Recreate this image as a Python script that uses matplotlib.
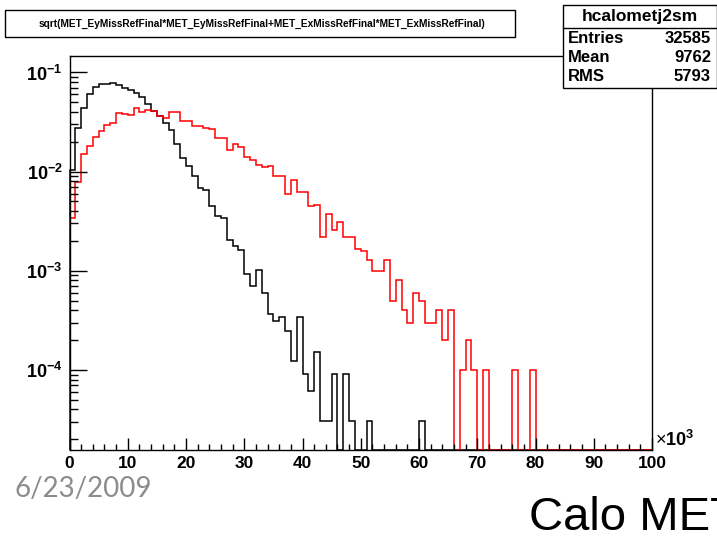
import numpy as np
import matplotlib
matplotlib.use("Agg")
import matplotlib.pyplot as plt
from matplotlib.patches import Rectangle
from matplotlib.lines import Line2D
from matplotlib.ticker import FixedLocator, MultipleLocator, LogLocator, NullFormatter

# ---- data: normalised MET distributions, 100 bins of 1 (x10^3) from 0 to 100 ----
bin_edges = np.arange(0, 101, 1)

met_hcal = [
    0.0103, 0.0274, 0.0436, 0.0600, 0.0710, 0.0765, 0.0765, 0.0790, 0.0750, 0.0690,
    0.0660, 0.0620, 0.0560, 0.0480, 0.0410, 0.0360, 0.0310, 0.0260, 0.0190, 0.0137,
    0.0113, 0.0091, 0.0068, 0.0065, 0.0045, 0.0036, 0.0034, 0.00206, 0.00176, 0.00162,
    0.00093, 0.00071, 0.00103, 0.00060, 0.00037, 0.00031, 0.00034, 0.00025, 0.000123, 0.00034,
    0.000092, 0.000061, 0.000153, 0.0000307, 0.0000307, 0.000092, 0.0, 0.000092, 0.0000307, 0.0,
    0.0, 0.0000307, 0.0, 0.0, 0.0, 0.0, 0.0, 0.0, 0.0, 0.0,
    0.0000307, 0.0, 0.0, 0.0, 0.0, 0.0, 0.0, 0.0, 0.0, 0.0,
    0.0, 0.0, 0.0, 0.0, 0.0, 0.0, 0.0, 0.0, 0.0, 0.0,
    0.0, 0.0, 0.0, 0.0, 0.0, 0.0, 0.0, 0.0, 0.0, 0.0,
    0.0, 0.0, 0.0, 0.0, 0.0, 0.0, 0.0, 0.0, 0.0, 0.0,
]

met_ref = [
    0.0034, 0.0079, 0.0150, 0.0182, 0.0226, 0.0254, 0.0292, 0.0308, 0.0388, 0.0380,
    0.0375, 0.0436, 0.0397, 0.0420, 0.0410, 0.0365, 0.0345, 0.0397, 0.0397, 0.0327,
    0.0327, 0.0290, 0.0290, 0.0278, 0.0270, 0.0217, 0.0220, 0.0166, 0.0189, 0.0179,
    0.0140, 0.0130, 0.0118, 0.0111, 0.0115, 0.0091, 0.0091, 0.0060, 0.0082, 0.0063,
    0.0063, 0.0045, 0.0046, 0.0022, 0.0037, 0.0026, 0.0031, 0.0022, 0.0022, 0.00167,
    0.0016, 0.0013, 0.0010, 0.0010, 0.0013, 0.0005, 0.0008, 0.0004, 0.0003, 0.0006,
    0.0005, 0.0003, 0.0003, 0.0004, 0.0002, 0.0004, 0.0, 0.0001, 0.0002, 0.0001,
    0.0, 0.0001, 0.0, 0.0, 0.0, 0.0, 0.0001, 0.0, 0.0, 0.0001,
    0.0, 0.0, 0.0, 0.0, 0.0, 0.0, 0.0, 0.0, 0.0, 0.0,
    0.0, 0.0, 0.0, 0.0, 0.0, 0.0, 0.0, 0.0, 0.0, 0.0,
]

title_text = "sqrt(MET_EyMissRefFinal*MET_EyMissRefFinal+MET_ExMissRefFinal*MET_ExMissRefFinal)"
stats_name = "hcalometj2sm"
stats_labels = ["Entries", "Mean", "RMS"]
stats_values = ["32585", "9762", "5793"]

x_major = [0, 10, 20, 30, 40, 50, 60, 70, 80, 90, 100]
x_labels = ["0", "10", "20", "30", "40", "50", "60", "70", "80", "90", "100"]
y_major = [1e-4, 1e-3, 1e-2, 1e-1]
y_labels = [r"$\mathbf{10^{-4}}$", r"$\mathbf{10^{-3}}$", r"$\mathbf{10^{-2}}$", r"$\mathbf{10^{-1}}$"]

date_text = "6/23/2009"
slide_title = "Calo MET"

# ---- style ----
plt.rcParams["font.family"] = ["Liberation Sans", "DejaVu Sans"]
plt.rcParams["mathtext.fontset"] = "custom"
plt.rcParams["mathtext.rm"] = "Liberation Sans"
plt.rcParams["mathtext.bf"] = "Liberation Sans:bold"

W, H = 717, 539
fig = plt.figure(figsize=(W / 100, H / 100), dpi=100)
fig.patch.set_facecolor("white")


def fx(x):
    return x / W


def fy(y):
    return 1 - y / H


ax_l, ax_r, ax_t, ax_b = 69.5, 652.0, 56.0, 450.0
ax = fig.add_axes([fx(ax_l), fy(ax_b), fx(ax_r - ax_l), (ax_b - ax_t) / H])

ymin, ymax = 10 ** -4.807, 10 ** -0.834
ax.set_yscale("log")
ax.set_xlim(0, 100)
ax.set_ylim(ymin, ymax)

for vals, col in ((met_hcal, "black"), (met_ref, "#ff0000")):
    v = np.asarray(vals, dtype=float)
    v = np.where(v > 0, v, ymin)
    ax.stairs(v, bin_edges, baseline=ymin, color=col, linewidth=1.1, clip_on=False)

# axes and ticks
for s in ax.spines.values():
    s.set_linewidth(1.0)
ax.xaxis.set_major_locator(FixedLocator(x_major))
ax.set_xticklabels(x_labels)
ax.xaxis.set_minor_locator(MultipleLocator(2))
ax.yaxis.set_major_locator(FixedLocator(y_major))
ax.set_yticklabels(y_labels)
ax.yaxis.set_minor_locator(LogLocator(base=10, subs=np.arange(2, 10)))
ax.yaxis.set_minor_formatter(NullFormatter())

ax.tick_params(axis="x", which="major", direction="in", length=8.5, width=1, pad=4,
               labelsize=12.5)
ax.tick_params(axis="x", which="minor", direction="in", length=4.3, width=1)
ax.tick_params(axis="y", which="major", direction="in", length=12, width=1, pad=5,
               labelsize=13)
ax.tick_params(axis="y", which="minor", direction="in", length=5.8, width=1)
for lab in ax.get_xticklabels():
    lab.set_fontweight("bold")

# x-axis multiplier
fig.text(fx(655), fy(450), r"$\times\mathbf{10^{3}}$", fontsize=13, ha="left", va="bottom")

# title pave
fig.add_artist(Rectangle((fx(5), fy(37)), fx(510), 27 / H, transform=fig.transFigure,
                         facecolor="white", edgecolor="black", linewidth=1.0, zorder=5))
fig.text(fx(262), fy(23.5), title_text, fontsize=7.3, fontweight="bold",
         ha="center", va="center", zorder=6)

# statistics box
sb_l, sb_r, sb_t, sb_b = 563, 716.5, 5, 88
fig.add_artist(Rectangle((fx(sb_l), fy(sb_b)), fx(sb_r - sb_l), (sb_b - sb_t) / H,
                         transform=fig.transFigure, facecolor="white",
                         edgecolor="black", linewidth=1.0, zorder=5))
fig.add_artist(Line2D([fx(sb_l), fx(sb_r)], [fy(28), fy(28)], transform=fig.transFigure,
                      color="black", linewidth=1.0, zorder=6))
fig.text(fx((sb_l + sb_r) / 2), fy(17), stats_name, fontsize=12.5, fontweight="bold",
         ha="center", va="center", zorder=6)
for i, (lab, val) in enumerate(zip(stats_labels, stats_values)):
    yy = 38.5 + i * 19.0
    fig.text(fx(568), fy(yy), lab, fontsize=12, fontweight="bold", ha="left",
             va="center", zorder=6)
    fig.text(fx(711), fy(yy), val, fontsize=12, fontweight="bold", ha="right",
             va="center", zorder=6)

# slide annotations
fig.text(fx(15), fy(497), date_text, fontsize=20, color="#8c8c8c",
         family=["Lato", "DejaVu Sans"], ha="left", va="baseline")
fig.text(fx(529), fy(530), slide_title, fontsize=34, color="black",
         ha="left", va="baseline")

fig.savefig("out.png", dpi=100)
